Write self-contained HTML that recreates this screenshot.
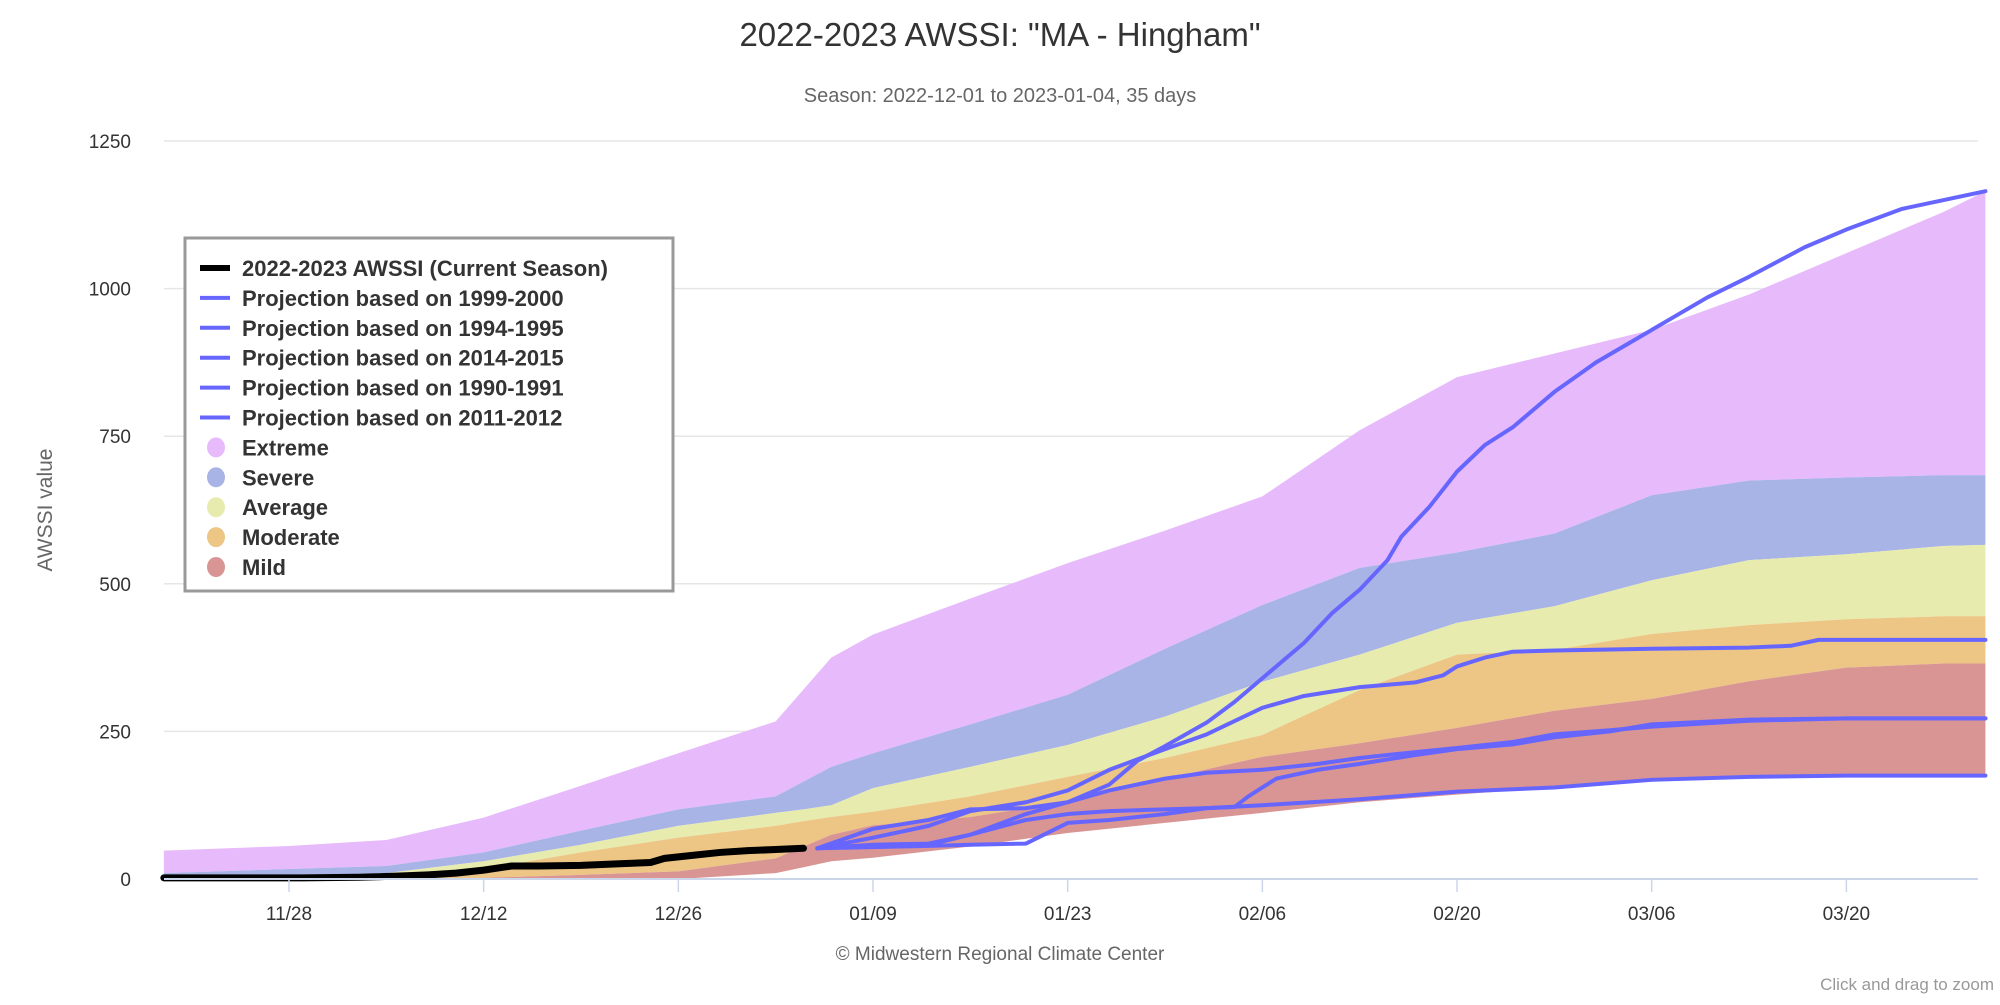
<!DOCTYPE html>
<html><head><meta charset="utf-8"><style>
body{margin:0;background:#fff;}
svg text{font-family:"Liberation Sans","DejaVu Sans",sans-serif;}
</style></head><body>
<svg id="chart" width="2000" height="1000" viewBox="0 0 2000 1000" xmlns="http://www.w3.org/2000/svg">
<rect width="2000" height="1000" fill="#fff"/>
<text x="1000" y="46" text-anchor="middle" font-size="33" fill="#333">2022-2023 AWSSI: "MA - Hingham"</text>
<text x="1000" y="102" text-anchor="middle" font-size="20" fill="#666">Season: 2022-12-01 to 2023-01-04, 35 days</text>
<g id="grid"></g>
<g id="bands"></g>
<g id="lines"></g>
<g id="axes"></g>
<text transform="translate(52,510) rotate(-90)" text-anchor="middle" font-size="21" fill="#666">AWSSI value</text>
<text x="1000" y="960" text-anchor="middle" font-size="19" fill="#666">© Midwestern Regional Climate Center</text>
<text x="1994" y="990" text-anchor="end" font-size="17" fill="#999">Click and drag to zoom</text>
<g id="legend"></g>
</svg>
<script>
// day index 0 = Nov 19
const bandDays = [0,9,16,23,30,37,44,46,48,51,58,65,72,79,86,93,100,107,114,121,128,131];
const extremeTop = [48,56,66,104,158,213,267,321,375,414,475,535,590,648,760,850,890,930,990,1060,1130,1165];
const severeTop = [10,17,22,45,82,118,140,165,190,213,262,312,390,464,527,553,585,650,675,680,684,684];
const averageTop = [2,5,10,30,58,90,112,118,125,154,190,227,275,334,380,434,462,506,540,550,564,566];
const moderateTop = [0,1,3,17,45,70,90,98,105,114,140,173,205,244,320,380,388,415,430,440,445,445];
const mildTop = [0,0,0,2,7,13,35,55,75,91,105,131,170,207,230,256,285,305,335,358,365,365];
const mildBottom = [0,0,0,0,0,0,10,20,30,36,55,78,95,112,130,143,155,165,172,176,177,177];

const curDays = [0,10,14,17,19,21,23,25,27,30,33,35,36,38,40,42,44,46];
const curVals = [2,2,3,5,7,10,15,22,22,23,26,28,35,40,45,48,50,52];

const p1Days = [47,51,55,58,62,65,68,70,72,75,77,79,82,84,86,88,89,91,93,95,97,100,103,107,111,114,118,121,125,128,131];
const p1Vals = [52,58,60,75,110,130,160,200,225,265,300,340,400,450,490,540,580,630,690,735,765,825,875,930,985,1020,1070,1100,1135,1150,1165];
const p2Days = [47,51,55,58,62,65,68,72,75,79,82,86,90,92,93,95,97,100,107,114,117,119,131];
const p2Vals = [52,70,90,115,130,150,185,220,245,290,310,325,333,345,360,375,385,387,390,392,395,405,405];
const p3Days = [47,51,55,58,62,65,68,72,75,77,78,80,83,86,90,93,97,100,104,107,114,121,131];
const p3Vals = [52,56,58,75,100,110,115,118,120,122,140,170,185,195,210,220,228,240,250,262,270,272,272];
const p4Days = [47,51,55,58,62,65,68,72,75,79,83,86,90,93,97,100,104,107,114,121,131];
const p4Vals = [52,85,100,118,120,130,150,170,180,185,195,205,215,222,232,245,252,258,268,272,272];
const p5Days = [47,51,55,58,62,65,68,72,75,79,86,93,100,107,114,121,131];
const p5Vals = [52,54,56,58,60,95,100,110,120,125,135,148,155,168,173,175,175];

const yTicks = [0,250,500,750,1000,1250];
const xTickDays = [9,23,37,51,65,79,93,107,121];
const xTickLabels = ["11/28","12/12","12/26","01/09","01/23","02/06","02/20","03/06","03/20"];

const NS = "http://www.w3.org/2000/svg";
const X0 = 164, XR = 1978, Y0 = 879, YT = 141;
function x(d){ return 289 + (d-9)*13.905; }
function y(v){ return Y0 - v*(Y0-YT)/1250; }
function mk(tag, attrs, parent){ const e=document.createElementNS(NS,tag); for(const k in attrs) e.setAttribute(k,attrs[k]); parent.appendChild(e); return e; }

const grid=document.getElementById('grid');
yTicks.forEach(v=>{
  if(v>0){ const g=mk('line',{x1:X0,x2:XR,y1:y(v),y2:y(v),stroke:'#e6e6e6','stroke-width':1.5},grid);
    
     }
  const t=mk('text',{x:131,y:y(v)+7,'text-anchor':'end','font-size':19,fill:'#333'},grid);
  t.textContent=v;
  
  
});

const bands=document.getElementById('bands');
function band(top,bot,color,name){
  let d='M'+bandDays.map((dd,i)=>x(dd)+','+y(top[i])).join(' L');
  for(let i=bandDays.length-1;i>=0;i--) d+=' L'+x(bandDays[i])+','+y(bot[i]);
  const p=mk('path',{d:d+'Z',fill:color,stroke:'none'},bands);
  
  
}
band(extremeTop,severeTop,'#e7bafc','band-extreme');
band(severeTop,averageTop,'#a8b4e6','band-severe');
band(averageTop,moderateTop,'#e7ebae','band-average');
band(moderateTop,mildTop,'#edc585','band-moderate');
band(mildTop,mildBottom,'#d99593','band-mild');

const lines=document.getElementById('lines');
function line(days,vals,color,w,name){
  const p=mk('polyline',{points:days.map((d,i)=>x(d)+','+y(vals[i])).join(' '),fill:'none',stroke:color,'stroke-width':w,'stroke-linejoin':'round','stroke-linecap':'round'},lines);
  
  
}
line(p5Days,p5Vals,'#6666ff',4,'projection-2011-2012');
line(p4Days,p4Vals,'#6666ff',4,'projection-1990-1991');
line(p3Days,p3Vals,'#6666ff',4,'projection-2014-2015');
line(p2Days,p2Vals,'#6666ff',4,'projection-1994-1995');
line(p1Days,p1Vals,'#6666ff',4,'projection-1999-2000');
line(curDays,curVals,'#000',7,'current-season-line');

const axes=document.getElementById('axes');
const ax=mk('line',{x1:X0,x2:XR,y1:Y0,y2:Y0,stroke:'#ccd6eb','stroke-width':2},axes);


xTickDays.forEach((d,i)=>{
  const tk=mk('line',{x1:x(d),x2:x(d),y1:Y0,y2:Y0+13,stroke:'#ccd6eb','stroke-width':1.5},axes);
  
  
  const t=mk('text',{x:x(d),y:920,'text-anchor':'middle','font-size':19,fill:'#333'},axes);
  t.textContent=xTickLabels[i];
  
  
});

const lg=document.getElementById('legend');
mk('rect',{x:185,y:238,width:488,height:353,fill:'#fff',stroke:'#999','stroke-width':3},lg);
const items=[["2022-2023 AWSSI (Current Season)","line","#000"],["Projection based on 1999-2000","line","#6666ff"],["Projection based on 1994-1995","line","#6666ff"],["Projection based on 2014-2015","line","#6666ff"],["Projection based on 1990-1991","line","#6666ff"],["Projection based on 2011-2012","line","#6666ff"],["Extreme","dot","#e7bafc"],["Severe","dot","#a8b4e6"],["Average","dot","#e7ebae"],["Moderate","dot","#edc585"],["Mild","dot","#d99593"]];
items.forEach((it,i)=>{
  const yy=268+i*29.9;
  const g=mk('g',{},lg);
  
  
  if(it[1]==='line') mk('line',{x1:200,x2:230,y1:yy,y2:yy,stroke:it[2],'stroke-width':it[2]==='#000'?6:4},g);
  else mk('ellipse',{cx:216,cy:yy,rx:9,ry:10,fill:it[2]},g);
  const t=mk('text',{x:242,y:yy+8,'font-size':22,'font-weight':'bold',fill:'#333'},g);
  t.textContent=it[0];
});
</script>
</body></html>
